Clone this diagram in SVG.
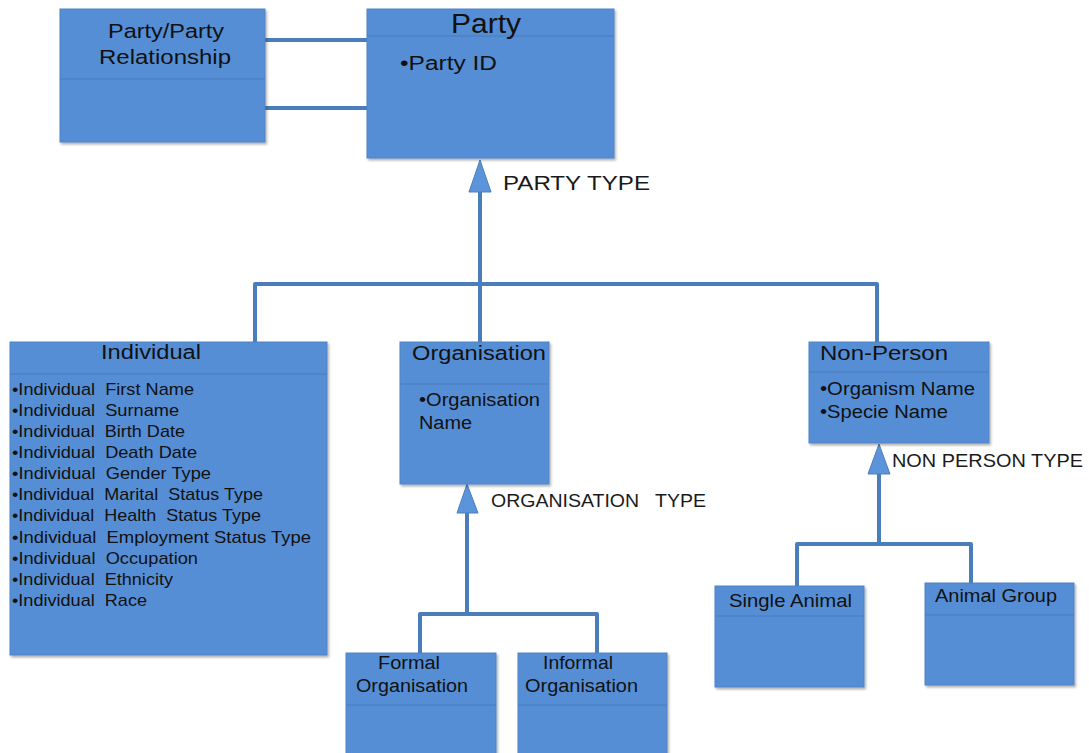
<svg xmlns="http://www.w3.org/2000/svg" width="1089" height="753" viewBox="0 0 1089 753">
  <style>
    .box { fill: #558ED5; stroke: #4F83C6; stroke-width: 1; filter: url(#shadow); }
    .div { stroke: #4A7CBC; stroke-width: 1.2; }
    .conn { fill: none; stroke: #4A7EBB; stroke-width: 4; stroke-linejoin: round; }
    .tri { fill: #5B94DA; stroke: #4A7EBB; stroke-width: 1; }
    text { font-family: "Liberation Sans", Arial, sans-serif; fill: #111; white-space: pre; }
    .t20 { font-size: 20px; }
    .t18 { font-size: 18px; }
    .t17 { font-size: 17px; }
    .lbl { font-size: 18px; fill: #1a1a1a; }
  </style>
  <defs>
    <filter id="shadow" x="-5%" y="-5%" width="115%" height="115%">
      <feDropShadow dx="1.5" dy="2" stdDeviation="1.2" flood-color="#000" flood-opacity="0.3"/>
    </filter>
  </defs>

  <!-- connectors -->
  <g id="connectors">
    <line class="conn" x1="265" y1="40" x2="367" y2="40"/>
    <line class="conn" x1="265" y1="108" x2="367" y2="108"/>
    <polyline class="conn" points="480,190 480,284"/>
    <polyline class="conn" points="255,342 255,284 877,284 877,342"/>
    <line class="conn" x1="480" y1="284" x2="480" y2="342"/>
    <polygon class="tri" points="480,160 469,192 491,192"/>

    <polyline class="conn" points="467,511 467,614"/>
    <polyline class="conn" points="420,653 420,614 597,614 597,653"/>
    <polygon class="tri" points="467,484 457,513 478,513"/>

    <polyline class="conn" points="879,472 879,544"/>
    <polyline class="conn" points="797,586 797,544 971,544 971,583"/>
    <polygon class="tri" points="879,444 868,474 890,474"/>
  </g>

  <!-- connector labels -->
  <text class="lbl" x="503" y="190" style="font-size:20px" textLength="147" lengthAdjust="spacingAndGlyphs">PARTY TYPE</text>
  <text class="lbl" x="491" y="507" textLength="215" lengthAdjust="spacingAndGlyphs">ORGANISATION   TYPE</text>
  <text class="lbl" x="892" y="467" textLength="191" lengthAdjust="spacingAndGlyphs">NON PERSON TYPE</text>

  <g id="party-relationship">
    <rect class="box" x="60" y="9" width="205" height="133"/>
    <line class="div" x1="60" y1="79" x2="265" y2="79"/>
    <text class="t20" x="108" y="38" textLength="116" lengthAdjust="spacingAndGlyphs">Party/Party</text>
    <text class="t20" x="99" y="64" textLength="132" lengthAdjust="spacingAndGlyphs">Relationship</text>
  </g>

  <g id="party">
    <rect class="box" x="367" y="9" width="247" height="149"/>
    <line class="div" x1="367" y1="36" x2="614" y2="36"/>
    <text x="451" y="33" style="font-size:27px" textLength="70" lengthAdjust="spacingAndGlyphs">Party</text>
    <text class="t20" x="400" y="70" textLength="97" lengthAdjust="spacingAndGlyphs">•Party ID</text>
  </g>

  <g id="individual">
    <rect class="box" x="10" y="342" width="317" height="313"/>
    <line class="div" x1="10" y1="374" x2="327" y2="374"/>
    <text class="t20" x="101" y="359" textLength="100" lengthAdjust="spacingAndGlyphs">Individual</text>
    <g class="t17">
      <text x="12" y="395" textLength="182" lengthAdjust="spacingAndGlyphs">•Individual  First Name</text>
      <text x="12" y="416" textLength="167" lengthAdjust="spacingAndGlyphs">•Individual  Surname</text>
      <text x="12" y="437" textLength="173" lengthAdjust="spacingAndGlyphs">•Individual  Birth Date</text>
      <text x="12" y="458" textLength="185" lengthAdjust="spacingAndGlyphs">•Individual  Death Date</text>
      <text x="12" y="479" textLength="199" lengthAdjust="spacingAndGlyphs">•Individual  Gender Type</text>
      <text x="12" y="500" textLength="251" lengthAdjust="spacingAndGlyphs">•Individual  Marital  Status Type</text>
      <text x="12" y="521" textLength="249" lengthAdjust="spacingAndGlyphs">•Individual  Health  Status Type</text>
      <text x="12" y="543" textLength="299" lengthAdjust="spacingAndGlyphs">•Individual  Employment Status Type</text>
      <text x="12" y="564" textLength="186" lengthAdjust="spacingAndGlyphs">•Individual  Occupation</text>
      <text x="12" y="585" textLength="161" lengthAdjust="spacingAndGlyphs">•Individual  Ethnicity</text>
      <text x="12" y="606" textLength="135" lengthAdjust="spacingAndGlyphs">•Individual  Race</text>
    </g>
  </g>

  <g id="organisation">
    <rect class="box" x="400" y="342" width="149" height="142"/>
    <line class="div" x1="400" y1="384" x2="549" y2="384"/>
    <text class="t20" x="412" y="360" textLength="134" lengthAdjust="spacingAndGlyphs">Organisation</text>
    <text class="t18" x="419" y="406" textLength="121" lengthAdjust="spacingAndGlyphs">•Organisation</text>
    <text class="t18" x="419" y="429" textLength="53" lengthAdjust="spacingAndGlyphs">Name</text>
  </g>

  <g id="non-person">
    <rect class="box" x="809" y="342" width="180" height="101"/>
    <line class="div" x1="809" y1="372" x2="989" y2="372"/>
    <text class="t20" x="820" y="360" textLength="128" lengthAdjust="spacingAndGlyphs">Non-Person</text>
    <text class="t18" x="820" y="395" textLength="155" lengthAdjust="spacingAndGlyphs">•Organism Name</text>
    <text class="t18" x="820" y="418" textLength="128" lengthAdjust="spacingAndGlyphs">•Specie Name</text>
  </g>

  <g id="formal-organisation">
    <rect class="box" x="346" y="653" width="150" height="110"/>
    <line class="div" x1="346" y1="705" x2="496" y2="705"/>
    <text class="t18" x="378" y="669" textLength="62" lengthAdjust="spacingAndGlyphs">Formal</text>
    <text class="t18" x="356" y="692" textLength="112" lengthAdjust="spacingAndGlyphs">Organisation</text>
  </g>

  <g id="informal-organisation">
    <rect class="box" x="518" y="653" width="149" height="110"/>
    <line class="div" x1="518" y1="705" x2="667" y2="705"/>
    <text class="t18" x="543" y="669" textLength="70" lengthAdjust="spacingAndGlyphs">Informal</text>
    <text class="t18" x="525" y="692" textLength="113" lengthAdjust="spacingAndGlyphs">Organisation</text>
  </g>

  <g id="single-animal">
    <rect class="box" x="715" y="586" width="149" height="101"/>
    <line class="div" x1="715" y1="616" x2="864" y2="616"/>
    <text class="t18" x="729" y="607" textLength="123" lengthAdjust="spacingAndGlyphs">Single Animal</text>
  </g>

  <g id="animal-group">
    <rect class="box" x="925" y="583" width="149" height="102"/>
    <line class="div" x1="925" y1="615" x2="1074" y2="615"/>
    <text class="t18" x="935" y="602" textLength="122" lengthAdjust="spacingAndGlyphs">Animal Group</text>
  </g>
</svg>
